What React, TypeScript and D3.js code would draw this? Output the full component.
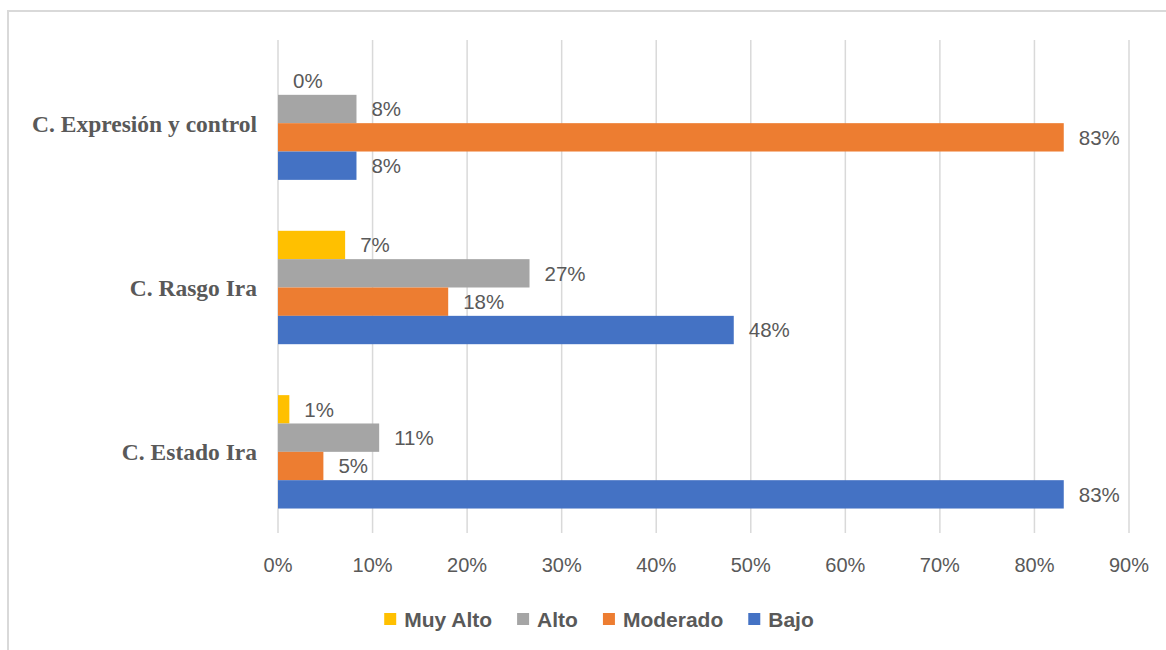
import React, { useEffect, useRef } from "react";
import * as d3 from "d3";

const categories = ["C. Expresión y control", "C. Rasgo Ira", "C. Estado Ira"];
const seriesNames = ["Muy Alto", "Alto", "Moderado", "Bajo"];
const muyAlto = [0, 0.071, 0.012];
const alto = [0.083, 0.266, 0.107];
const moderado = [0.831, 0.18, 0.048];
const bajo = [0.083, 0.482, 0.831];
const seriesValues = [muyAlto, alto, moderado, bajo];
const seriesColors = ["#FFC000", "#A5A5A5", "#ED7D31", "#4472C4"];
const xTicks = [0, 0.1, 0.2, 0.3, 0.4, 0.5, 0.6, 0.7, 0.8, 0.9];

const W = 1166;
const H = 650;
const TEXT = "#595959";
const SANS = "'Liberation Sans', Arial, sans-serif";
const SERIF = "'Liberation Serif', 'Times New Roman', serif";

export default function App() {
  const ref = useRef<SVGSVGElement | null>(null);

  useEffect(() => {
    document.body.style.margin = "0";
    const svg = d3.select(ref.current);
    svg.selectAll("*").remove();

    svg.append("rect").attr("x", 0).attr("y", 0).attr("width", W).attr("height", H).attr("fill", "#fff");

    // chart frame
    svg.append("path")
      .attr("d", `M8,${H + 5} L8,11 L${W + 5},11`)
      .attr("fill", "none")
      .attr("stroke", "#d9d9d9")
      .attr("stroke-width", 2);

    const x = d3.scaleLinear().domain([0, 0.9]).range([278, 1129]);
    const y = d3.scaleBand<string>().domain(categories).range([41, 534]).paddingInner(0.31).paddingOuter(0.155);
    const yInner = d3.scaleBand<string>().domain(seriesNames).range([0, y.bandwidth()]).padding(0);
    const fmt = d3.format(".0%");

    // gridlines
    svg.append("g").selectAll("line").data(xTicks).join("line")
      .attr("x1", (d) => x(d)).attr("x2", (d) => x(d))
      .attr("y1", 40).attr("y2", 533)
      .attr("stroke", "#d9d9d9").attr("stroke-width", 1.5);

    // tick labels
    svg.append("g").selectAll("text").data(xTicks).join("text")
      .attr("x", (d) => x(d)).attr("y", 572)
      .attr("text-anchor", "middle")
      .attr("font-family", SANS).attr("font-size", 20).attr("fill", TEXT)
      .text((d) => fmt(d));

    // category labels
    svg.append("g").selectAll("text").data(categories).join("text")
      .attr("x", 257)
      .attr("y", (d) => (y(d) as number) + y.bandwidth() / 2)
      .attr("dy", "0.36em")
      .attr("text-anchor", "end")
      .attr("font-family", SERIF).attr("font-weight", "bold").attr("font-size", 23.5).attr("fill", TEXT)
      .text((d) => d);

    // bars
    seriesNames.forEach((s, si) => {
      const data = categories.map((c, ci) => ({ c, v: seriesValues[si][ci] }));
      const g = svg.append("g");
      g.selectAll("rect").data(data).join("rect")
        .attr("x", x(0))
        .attr("y", (d) => (y(d.c) as number) + (yInner(s) as number))
        .attr("width", (d) => x(d.v) - x(0))
        .attr("height", yInner.bandwidth())
        .attr("fill", seriesColors[si]);
      g.selectAll("text").data(data).join("text")
        .attr("x", (d) => x(d.v) + 15)
        .attr("y", (d) => (y(d.c) as number) + (yInner(s) as number) + yInner.bandwidth() / 2)
        .attr("dy", "0.36em")
        .attr("font-family", SANS).attr("font-size", 20.5).attr("fill", TEXT)
        .text((d) => fmt(d.v));
    });

    // legend
    const legend = svg.append("g");
    const items = legend.selectAll("g").data(seriesNames).join("g");
    items.append("rect").attr("width", 12).attr("height", 12).attr("y", -6)
      .attr("fill", (_d, i) => seriesColors[i]);
    const texts = items.append("text").attr("x", 20).attr("dy", "0.36em")
      .attr("font-family", SANS).attr("font-weight", "bold").attr("font-size", 21).attr("fill", TEXT)
      .text((d) => d);
    let cx = 0;
    const offsets: number[] = [];
    texts.each(function () {
      offsets.push(cx);
      const w = (this as SVGTextElement).getComputedTextLength();
      cx += 20 + w + 25;
    });
    const total = cx - 25;
    const start = 599 - total / 2;
    items.attr("transform", (_d, i) => `translate(${start + offsets[i]},619)`);
  }, []);

  return (
    <div style={{ position: "absolute", left: 0, top: 0 }}>
      <svg ref={ref} width={W} height={H} style={{ display: "block" }} />
    </div>
  );
}
